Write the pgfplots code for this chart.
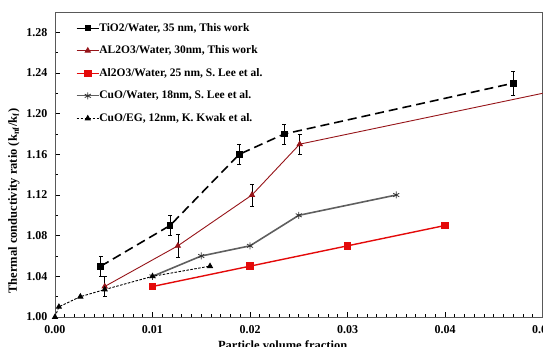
\documentclass[border=0pt]{standalone}
\usepackage{fontspec}
\setmainfont{Liberation Serif}
\usepackage{pgfplots}
\pgfplotsset{compat=1.18}
\usetikzlibrary{calc}
\definecolor{dred}{RGB}{150,20,25}
\definecolor{lred}{RGB}{228,10,10}
\definecolor{cgray}{RGB}{95,95,95}
\begin{document}
\begin{tikzpicture}
\begin{axis}[
  scale only axis=true,
  width=487.5pt, height=305pt,
  xmin=0, xmax=0.05, ymin=1.00, ymax=1.30,
  xtick distance=0.01, minor x tick num=9,
  scaled x ticks=false, scaled y ticks=false,
  ytick={1.00,1.04,1.08,1.12,1.16,1.20,1.24,1.28},
  minor y tick num=1,
  tick align=inside,
  xtick pos=bottom, ytick pos=left,
  major tick length=5pt, minor tick length=3pt,
  tick style={black, line width=0.6pt},
  axis line style={draw=black!65, line width=0.8pt},
  /pgf/number format/assume math mode=true,
  xticklabel style={/pgf/number format/fixed, /pgf/number format/fixed zerofill, /pgf/number format/precision=2, yshift=-5pt},
  yticklabel style={/pgf/number format/fixed, /pgf/number format/fixed zerofill, /pgf/number format/precision=2, xshift=-4pt},
  ticklabel style={font=\bfseries\fontsize{12}{13}\selectfont},
  xlabel={Particle volume fraction},
  ylabel={Thermal conductivity ratio (k$_{\mathbf{nf}}$/k$_{\mathbf{f}}$)},
  label style={font=\bfseries\fontsize{12.5}{14}\selectfont},
  xlabel style={at={(axis description cs:0.467,0)}, anchor=north, yshift=-20pt},
  ylabel style={at={(axis description cs:0,0.38)}, anchor=south, xshift=0pt, yshift=32pt},
  legend style={draw=none, fill=none, at={(0.037,0.971)}, anchor=north west,
    font=\bfseries\fontsize{11.5}{13}\selectfont,
    nodes={inner sep=0pt, text height=8pt, text depth=2pt},
    row sep=12.6pt, /tikz/every even column/.append style={column sep=1pt}},
  legend cell align=left,
  legend image code/.code={\draw[mark repeat=2,mark phase=2, line width=0.9pt] plot coordinates {(0cm,0cm) (0.39cm,0cm) (0.78cm,0cm)};},
  error bars/error bar style={solid, black, line width=0.7pt},
  error bars/error mark options={rotate=90, mark size=2pt, black, solid, line width=0.6pt},
]
\coordinate (bl) at (rel axis cs:0,0);
\coordinate (tr) at (rel axis cs:1,1);
% TiO2/Water 35 nm
\addplot[black, line width=1.6pt, dash pattern=on 9pt off 5pt,
  mark=square*, mark size=2.6pt, mark options={solid},
  error bars/.cd, y dir=both, y explicit]
  coordinates {(0.0047,1.05) +- (0,0.01) (0.0118,1.09) +- (0,0.01) (0.0189,1.16) +- (0,0.01) (0.0235,1.18) +- (0,0.01) (0.047,1.23) +- (0,0.012)};
\addlegendentry{TiO2/Water, 35 nm, This work}
% AL2O3/Water 30nm
\addplot[dred, line width=0.9pt, mark=triangle*, mark size=2.9pt,
  error bars/.cd, y dir=both, y explicit]
  coordinates {(0.0051,1.03) +- (0,0.01) (0.0126,1.07) +- (0,0.011) (0.0202,1.12) +- (0,0.011) (0.0251,1.17) +- (0,0.01)};
\addlegendentry{AL2O3/Water, 30nm, This work}
% Al2O3/Water 25 nm Lee
\addplot[lred, line width=1.4pt, mark=square*, mark size=3.2pt]
  coordinates {(0.01,1.03) (0.02,1.05) (0.03,1.07) (0.04,1.09)};
\addlegendentry{Al2O3/Water, 25 nm, S. Lee et al.}
% CuO/Water 18nm Lee
\addplot[cgray, line width=1.6pt, mark=asterisk, mark size=3.5pt, mark options={black!80, line width=0.8pt}]
  coordinates {(0.01,1.04) (0.015,1.06) (0.02,1.07) (0.025,1.10) (0.035,1.12)};
\addlegendentry{CuO/Water, 18nm, S. Lee et al.}
% CuO/EG 12nm Kwak
\addplot[black, line width=0.9pt, dash pattern=on 2.5pt off 1.5pt, mark=triangle*, mark size=2.8pt, mark options={solid}]
  coordinates {(0,1.00) (0.0004,1.01) (0.0026,1.02) (0.0051,1.027) (0.01,1.04) (0.0159,1.05)};
\addlegendentry{CuO/EG, 12nm, K. Kwak et al.}
% continuation of AL2O3 line without markers
\addplot[dred, line width=0.9pt, forget plot] coordinates {(0.0251,1.17) (0.05,1.22)};
\end{axis}
\pgfresetboundingbox
\path[use as bounding box] ($(bl)+(-55pt,-30pt)$) rectangle ($(tr)+(0.5pt,12pt)$);
\end{tikzpicture}
\end{document}
